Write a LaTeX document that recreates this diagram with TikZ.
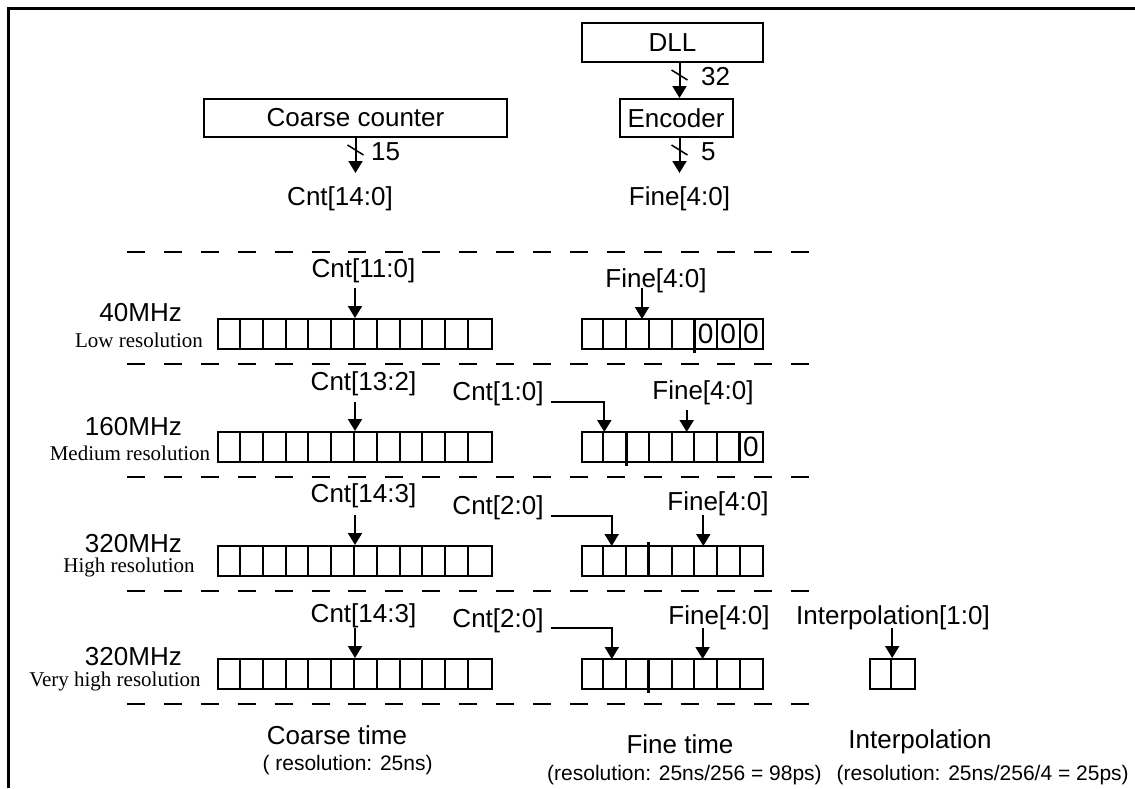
\documentclass[tikz,border=0pt]{standalone}
\usepackage{fontspec}
\setmainfont{Liberation Sans}
\newfontfamily\romanface{Liberation Serif}
\usetikzlibrary{arrows.meta}

% inner dividers of a register node: node name, number of dividers, cell width
\newcommand\regcells[3]{%
  \foreach \k in {1,...,#2}
    \draw[cellline] ([xshift={\k*#3}]#1.north west) -- ([xshift={\k*#3}]#1.south west);}

\begin{document}
\begin{tikzpicture}[x=1pt,y=-1pt,
  lbl/.style={inner sep=0pt, anchor=base, font=\fontsize{26}{31}\selectfont},
  bit/.style={inner sep=0pt, anchor=center, font=\fontsize{28}{32}\selectfont},
  small/.style={inner sep=0pt, anchor=base, font=\fontsize{21}{25}\selectfont},
  rom/.style={inner sep=0pt, anchor=base, font=\romanface\fontsize{21}{25}\selectfont},
  block/.style={draw, line width=2pt, inner sep=0pt, font=\fontsize{26}{31}\selectfont},
  reg/.style={draw, line width=2pt, inner sep=0pt, minimum height=30pt},
  cellline/.style={line width=2pt},
  joint/.style={line width=3pt},
  sig/.style={line width=2pt, -{Triangle[width=14pt,length=12pt]}},
  bus/.style={line width=1.5pt},
  sep/.style={line width=2pt, dash pattern=on 18pt off 18.9pt}]

\useasboundingbox (0,0) rectangle (1135,788);
\fill[white] (0,0) rectangle (1135,788);

% frame
\draw[line width=3.5pt] (8.5,788) -- (8.5,8.5) -- (1135,8.5);

% ---- sources ----
\node[block, minimum width=181pt, minimum height=39pt] (dll) at (672.5,42.5) {DLL};
\node[block, minimum width=113pt, minimum height=38pt] (enc) at (676,118) {Encoder};
\node[block, minimum width=303pt, minimum height=38pt] (cc) at (355.5,118) {Coarse counter};
\node[lbl] (cnttop) at (340,205) {Cnt[14:0]};
\node[lbl] (finetop) at (679.5,205) {Fine[4:0]};
\node[lbl, anchor=base west] (w32) at (701,85) {32};
\node[lbl, anchor=base west] (w15) at (371,160) {15};
\node[lbl, anchor=base west] (w5) at (701,160) {5};
\coordinate (cntin) at (355.5,173);
\coordinate (finein) at (679.5,173);
\draw[sig] (dll.south -| finein) -- (enc.north -| finein);
\draw[sig] (cc.south) -- (cntin);
\draw[sig] (enc.south -| finein) -- (finein);
\draw[bus] (671.5,70) -- (687.5,80);
\draw[bus] (347.5,145) -- (363.5,155);
\draw[bus] (671.5,145) -- (687.5,155);

% ---- separators ----
\foreach \y in {251.7,364.3,477.3,590.5,704}
  \draw[sep] (127,\y) -- (810,\y);

% ---- 40 MHz ----
\node[lbl, anchor=base east] (m1) at (182,321.7) {40MHz};
\node[rom] (r1) at (139,347.5) {Low resolution};
\node[reg, minimum width=273.4pt] (c1) at (355,334) {};
\regcells{c1}{11}{22.78pt}
\node[reg, minimum width=181.6pt] (f1) at (672.5,334) {};
\regcells{f1}{7}{22.7pt}
\draw[joint] ([xshift=5*22.7pt]f1.north west) -- ([xshift=5*22.7pt,yshift=-3pt]f1.south west);
\foreach \k in {6,7,8}
  \node[bit] at ([xshift={(\k-0.5)*22.7pt}]f1.west) {0};
\node[lbl] (cl1) at (363.5,277) {Cnt[11:0]};
\node[lbl] (fl1) at (656,287) {Fine[4:0]};
\coordinate (fa1) at (642,319);
\draw[sig] ([yshift=-11pt]cl1.base -| c1.north) -- (c1.north);
\draw[sig] ([yshift=-1pt]fl1.base -| fa1) -- (fa1);

% ---- 160 MHz ----
\node[lbl, anchor=base east] (m2) at (182,435) {160MHz};
\node[rom] (r2) at (130,460) {Medium resolution};
\node[reg, minimum width=273.4pt] (c2) at (355,447) {};
\regcells{c2}{11}{22.78pt}
\node[reg, minimum width=181.6pt] (f2) at (672.5,447) {};
\regcells{f2}{7}{22.7pt}
\draw[joint] ([xshift=2*22.7pt]f2.north west) -- ([xshift=2*22.7pt,yshift=-3pt]f2.south west);
\draw[joint] ([xshift=7*22.7pt]f2.north west) -- ([xshift=7*22.7pt]f2.south west);
\node[bit] at ([xshift=7.5*22.7pt]f2.west) {0};
\node[lbl] (cl2) at (363.5,390) {Cnt[13:2]};
\node[lbl] (cb2) at (498,400) {Cnt[1:0]};
\node[lbl] (fl2) at (703,399) {Fine[4:0]};
\coordinate (ca2) at (604.3,432);
\coordinate (fa2) at (686.7,432);
\draw[sig] ([yshift=-12pt]cl2.base -| c2.north) -- (c2.north);
\draw[sig] ([xshift=7pt,yshift=-1.7pt]cb2.base east) -| (ca2);
\draw[sig] ([yshift=-11pt]fl2.base -| fa2) -- (fa2);

% ---- 320 MHz ----
\node[lbl, anchor=base east] (m3) at (182,552) {320MHz};
\node[rom] (r3) at (129,572) {High resolution};
\node[reg, minimum width=273.4pt] (c3) at (355,561) {};
\regcells{c3}{11}{22.78pt}
\node[reg, minimum width=181.6pt] (f3) at (672.5,561) {};
\regcells{f3}{7}{22.7pt}
\draw[joint] ([xshift=3*22.7pt,yshift=3pt]f3.north west) -- ([xshift=3*22.7pt]f3.south west);
\node[lbl] (cl3) at (363.5,502) {Cnt[14:3]};
\node[lbl] (cb3) at (498,514) {Cnt[2:0]};
\node[lbl] (fl3) at (718,510) {Fine[4:0]};
\coordinate (ca3) at (611.7,546);
\coordinate (fa3) at (703.3,546);
\draw[sig] ([yshift=-13pt]cl3.base -| c3.north) -- (c3.north);
\draw[sig] ([xshift=7pt,yshift=-1.7pt]cb3.base east) -| (ca3);
\draw[sig] ([yshift=-5pt]fl3.base -| fa3) -- (fa3);

% ---- 320 MHz with interpolation ----
\node[lbl, anchor=base east] (m4) at (182,665) {320MHz};
\node[rom] (r4) at (115,686) {Very high resolution};
\node[reg, minimum width=273.4pt] (c4) at (355,674) {};
\regcells{c4}{11}{22.78pt}
\node[reg, minimum width=181.6pt] (f4) at (672.5,674) {};
\regcells{f4}{7}{22.7pt}
\draw[joint] ([xshift=3*22.7pt]f4.north west) -- ([xshift=3*22.7pt,yshift=-3pt]f4.south west);
\node[reg, minimum width=45.1pt] (i4) at (892.2,674) {};
\regcells{i4}{1}{22.55pt}
\node[lbl] (cl4) at (363.5,622) {Cnt[14:3]};
\node[lbl] (cb4) at (498,627) {Cnt[2:0]};
\node[lbl] (fl4) at (719,624) {Fine[4:0]};
\node[lbl] (il4) at (893,624) {Interpolation[1:0]};
\coordinate (ca4) at (611.8,659);
\coordinate (fa4) at (702.6,659);
\draw[sig] ([yshift=-6pt]cl4.base -| c4.north) -- (c4.north);
\draw[sig] ([xshift=7pt,yshift=-1.3pt]cb4.base east) -| (ca4);
\draw[sig] ([yshift=-4pt]fl4.base -| fa4) -- (fa4);
\draw[sig] ([yshift=-4pt]il4.base -| i4.north) -- (i4.north);

% ---- column captions ----
\node[lbl] (ct) at (337,744) {Coarse time};
\node[small] (cr) at (347.6,770) {( resolution: 25ns)};
\node[lbl] (ft) at (680,753) {Fine time};
\node[small] (fr) at (684.5,780) {(resolution: 25ns/256 = 98ps)};
\node[lbl] (itp) at (920,748) {Interpolation};
\node[small] (irs) at (982.7,780) {(resolution: 25ns/256/4 = 25ps)};
\end{tikzpicture}
\end{document}
